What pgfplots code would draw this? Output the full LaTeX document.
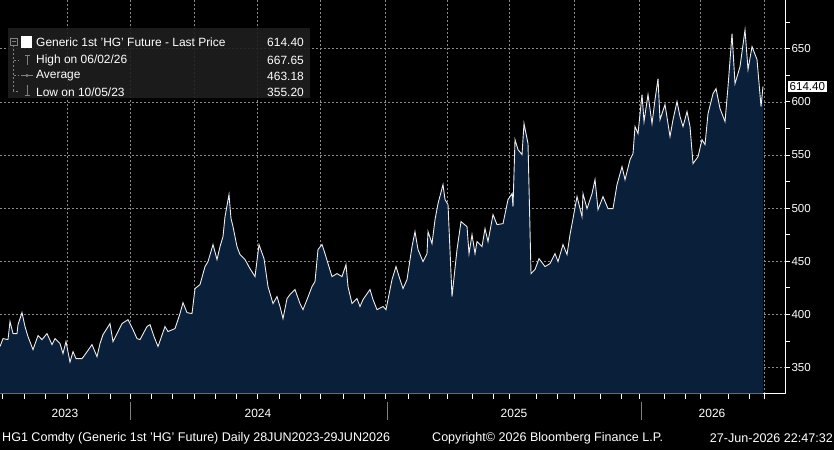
\documentclass[border=0pt]{standalone}
\usepackage{pgfplots}
\pgfplotsset{compat=1.18}
\usepackage{fontspec}
\setmainfont{Liberation Sans}
\definecolor{navy}{HTML}{0A1F3A}
\definecolor{gridc}{HTML}{8A8A8A}
\begin{document}
\begin{tikzpicture}[x=1bp,y=1bp]
\path[use as bounding box,fill=black] (0,0) rectangle (834,450);
\begin{axis}[at={(0,53)},anchor=south west,scale only axis,width=785bp,height=397bp,
  xmin=0,xmax=785,ymin=325.5,ymax=698.9,
  axis line style={white},
  axis x line*=bottom, axis y line*=right,
  xtick={67,130,194,257,320,385,447,509,574,639,700,764},
  xticklabels={},
  minor xtick={2.7,24,45.3,88.7,110,151.3,172.7,215.3,236.7,279.3,300.7,343.3,364.7,408,429,472,493,536,557,600,621,664,685,728,749},
  ytick={350,400,450,500,550,600,650},
  minor ytick={375,425,475,525,575,625,675},
  grid=major, major grid style={gridc,dash pattern=on 2bp off 2bp,line width=0.5bp},
  tick style={white,line width=0.8bp},
  major tick length=5bp, minor tick length=5bp,
  xtick align=outside, ytick align=outside,
  yticklabel style={white,font=\fontsize{11.6}{12}\selectfont,xshift=-2bp},
  /pgf/number format/assume math mode=true,
  clip=false]
\addplot[draw=none,fill=navy] coordinates {
(0,325.5)(0,369.8)(3,377.3)(8,376.3)(10,393.3)(13,382.0)(17,382.0)(18,390.4)(22,401.7)(25,388.6)(28,379.2)(33,366.9)(38,380.1)(42,376.3)(47,382.0)(52,371.6)(55,377.3)(60,372.6)(63,363.2)(66,374.5)(70,355.2)(73,365.0)(76,358.5)(82,358.5)(85,362.2)(92,371.6)(97,360.3)(100,372.6)(103,381.0)(110,391.4)(113,374.5)(117,382.0)(122,391.4)(128,395.1)(133,385.7)(137,377.3)(140,376.3)(147,388.6)(150,390.4)(154,379.2)(158,369.8)(165,388.6)(168,383.9)(175,386.7)(180,400.8)(183,411.1)(187,401.7)(192,400.8)(195,424.3)(200,428.1)(205,445.0)(208,449.7)(213,465.7)(217,451.6)(220,463.8)(223,473.2)(225,492.0)(229,512.7)(231,490.1)(233,482.6)(237,463.8)(240,456.3)(245,451.6)(250,443.1)(255,435.6)(259,465.7)
(264,452.5)(268,426.2)(273,410.2)(277,416.8)(280,407.4)(283,396.1)(287,414.9)(290,418.7)(295,423.4)(300,410.2)(303,404.5)(307,414.0)(312,426.2)(315,430.9)(318,461.0)(322,465.7)(325,457.2)(328,447.8)(332,435.6)(337,438.4)(342,435.6)(346,446.9)(348,426.2)(352,410.2)(357,414.9)(360,407.4)(363,414.0)(370,423.4)(373,414.0)(377,404.5)(383,407.4)(386,404.5)(392,432.8)(396,445.0)(400,432.8)(403,424.3)(407,432.8)(412,463.8)(415,477.9)(418,461.0)(423,449.7)(427,457.2)(428,477.9)(432,466.6)(435,489.2)(438,504.2)(443,522.1)(445,508.0)(448,503.3)(451,438.4)(452,416.8)(457,461.0)(461,487.3)(467,482.6)(469,457.2)(472,475.1)(475,457.2)(477,468.5)(482,463.8)(485,480.7)(488,468.5)(493,493.9)(497,484.5)(503,485.4)(508,508.0)(512,513.6)(513,501.4)(515,564.4)(518,555.0)
(522,550.3)(524,579.5)(528,560.7)(531,438.4)(535,442.2)(539,452.5)(545,445.0)(550,447.8)(555,457.2)(558,449.7)(563,465.7)(567,456.3)(570,475.1)(573,490.1)(577,510.8)(582,492.0)(583,513.6)(587,499.5)(592,513.6)(595,526.8)(598,498.6)(603,510.8)(608,499.5)(613,499.5)(617,522.1)(622,539.0)(625,526.8)(630,545.6)(633,551.3)(635,576.7)(638,570.1)(642,606.8)(644,581.4)(648,606.8)(652,579.5)(655,602.1)(658,621.8)(660,583.2)(665,597.4)(670,567.3)(673,583.2)(677,600.2)(680,586.1)(683,576.7)(687,590.8)(690,576.7)(693,541.9)(698,548.4)(702,564.4)(705,559.7)(708,588.9)(713,607.7)(716,612.4)(720,593.6)(725,581.4)(728,614.3)(732,664.1)(735,617.1)(740,633.1)(745,667.65)(748,630.3)(752,651.9)(757,639.7)(761,595.5)(763,614.4)(763,325.5)} \closedcycle;
\addplot[white!85!gray,line width=0.9bp] coordinates {
(0,369.8)(3,377.3)(8,376.3)(10,393.3)(13,382.0)(17,382.0)(18,390.4)(22,401.7)(25,388.6)(28,379.2)(33,366.9)(38,380.1)(42,376.3)(47,382.0)(52,371.6)(55,377.3)(60,372.6)(63,363.2)(66,374.5)(70,355.2)(73,365.0)(76,358.5)(82,358.5)(85,362.2)(92,371.6)(97,360.3)(100,372.6)(103,381.0)(110,391.4)(113,374.5)(117,382.0)(122,391.4)(128,395.1)(133,385.7)(137,377.3)(140,376.3)(147,388.6)(150,390.4)(154,379.2)(158,369.8)(165,388.6)(168,383.9)(175,386.7)(180,400.8)(183,411.1)(187,401.7)(192,400.8)(195,424.3)(200,428.1)(205,445.0)(208,449.7)(213,465.7)(217,451.6)(220,463.8)(223,473.2)(225,492.0)(229,512.7)(231,490.1)(233,482.6)(237,463.8)(240,456.3)(245,451.6)(250,443.1)(255,435.6)(259,465.7)
(264,452.5)(268,426.2)(273,410.2)(277,416.8)(280,407.4)(283,396.1)(287,414.9)(290,418.7)(295,423.4)(300,410.2)(303,404.5)(307,414.0)(312,426.2)(315,430.9)(318,461.0)(322,465.7)(325,457.2)(328,447.8)(332,435.6)(337,438.4)(342,435.6)(346,446.9)(348,426.2)(352,410.2)(357,414.9)(360,407.4)(363,414.0)(370,423.4)(373,414.0)(377,404.5)(383,407.4)(386,404.5)(392,432.8)(396,445.0)(400,432.8)(403,424.3)(407,432.8)(412,463.8)(415,477.9)(418,461.0)(423,449.7)(427,457.2)(428,477.9)(432,466.6)(435,489.2)(438,504.2)(443,522.1)(445,508.0)(448,503.3)(451,438.4)(452,416.8)(457,461.0)(461,487.3)(467,482.6)(469,457.2)(472,475.1)(475,457.2)(477,468.5)(482,463.8)(485,480.7)(488,468.5)(493,493.9)(497,484.5)(503,485.4)(508,508.0)(512,513.6)(513,501.4)(515,564.4)(518,555.0)
(522,550.3)(524,579.5)(528,560.7)(531,438.4)(535,442.2)(539,452.5)(545,445.0)(550,447.8)(555,457.2)(558,449.7)(563,465.7)(567,456.3)(570,475.1)(573,490.1)(577,510.8)(582,492.0)(583,513.6)(587,499.5)(592,513.6)(595,526.8)(598,498.6)(603,510.8)(608,499.5)(613,499.5)(617,522.1)(622,539.0)(625,526.8)(630,545.6)(633,551.3)(635,576.7)(638,570.1)(642,606.8)(644,581.4)(648,606.8)(652,579.5)(655,602.1)(658,621.8)(660,583.2)(665,597.4)(670,567.3)(673,583.2)(677,600.2)(680,586.1)(683,576.7)(687,590.8)(690,576.7)(693,541.9)(698,548.4)(702,564.4)(705,559.7)(708,588.9)(713,607.7)(716,612.4)(720,593.6)(725,581.4)(728,614.3)(732,664.1)(735,617.1)(740,633.1)(745,667.65)(748,630.3)(752,651.9)(757,639.7)(761,595.5)(763,614.4)};
\node[fill=white,text=black,inner sep=1.5bp,font=\fontsize{11.6}{12}\selectfont,anchor=west] at (axis cs:788,614.4) {614.40};
\end{axis}
% legend box
\fill[black!88!white,opacity=0.9] (8,352) rectangle (310,422);
\begin{scope}[font=\fontsize{12}{13}\selectfont,white]
\draw[gray,line width=0.6bp] (10,405) rectangle (17,412);
\draw[gray,line width=0.6bp] (11.5,408.5)--(15.5,408.5);
\draw[gray,line width=0.6bp,dash pattern=on 2bp off 2bp] (13.5,405)--(13.5,359)--(19,359);
\draw[gray,dash pattern=on 2bp off 2bp] (13.5,390)--(19,390) (13.5,374.5)--(19,374.5);
\fill[white] (21,402) rectangle (32,414);
\draw[gray,line width=0.7bp] (27,385)--(27,395) (24.5,395)--(29.5,395);
\draw[gray,line width=0.7bp] (21,374.5)--(33,374.5); \fill[gray] (27,374.5) circle (1.6bp);
\draw[gray,line width=0.7bp] (27,355)--(27,365) (24.5,355)--(29.5,355);
\node[anchor=west,inner sep=0] at (36,408) {Generic 1st 'HG' Future - Last Price};
\node[anchor=east,inner sep=0] at (304,408) {614.40};
\node[anchor=west,inner sep=0] at (36,390) {High on 06/02/26};
\node[anchor=east,inner sep=0] at (304,390) {667.65};
\node[anchor=west,inner sep=0] at (36,374) {Average};
\node[anchor=east,inner sep=0] at (304,374) {463.18};
\node[anchor=west,inner sep=0] at (36,358) {Low on 10/05/23};
\node[anchor=east,inner sep=0] at (304,358) {355.20};
\end{scope}
% year labels
\begin{scope}[font=\fontsize{12}{12}\selectfont,white]
\draw[gray,line width=0.6bp] (130,30)--(130,48) (387,30)--(387,48) (641,30)--(641,48);
\node at (65,37) {2023};
\node at (258,37) {2024};
\node at (514,37) {2025};
\node at (712,37) {2026};
\end{scope}
\begin{scope}[font=\fontsize{12.6}{13}\selectfont,white]
\node[anchor=west,inner sep=0] at (2,12) {HG1 Comdty (Generic 1st 'HG' Future) Daily 28JUN2023-29JUN2026};
\node[anchor=west,inner sep=0] at (432,12) {Copyright\textcopyright{} 2026 Bloomberg Finance L.P.};
\node[anchor=east,inner sep=0] at (833,12) {27-Jun-2026 22:47:32};
\end{scope}
\end{tikzpicture}
\end{document}
